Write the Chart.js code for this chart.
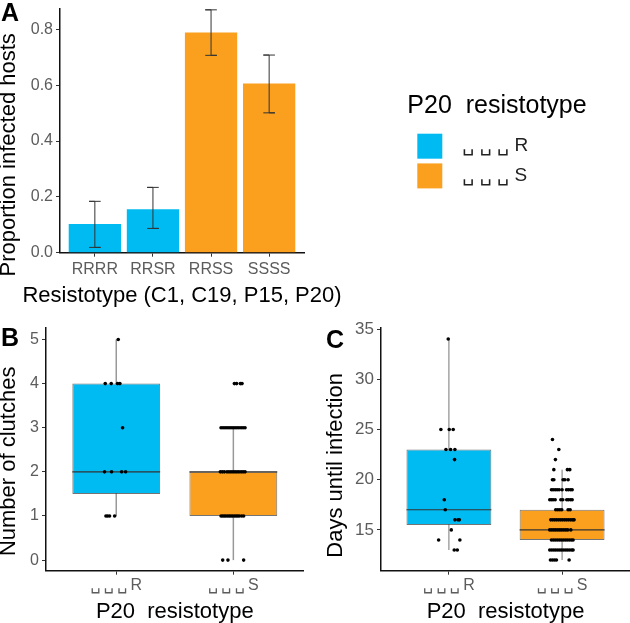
<!DOCTYPE html>
<html><head><meta charset="utf-8">
<style>
html,body{margin:0;padding:0;background:#fff;width:630px;height:623px;overflow:hidden}
canvas{position:absolute;display:block}
.tag{position:absolute;font:bold 25px "Liberation Sans",Arial,sans-serif;color:#000;line-height:25px}
</style></head><body>
<canvas id="a" width="630" height="315" style="left:0;top:0"></canvas>
<canvas id="b" width="320" height="303" style="left:0;top:320px"></canvas>
<canvas id="c" width="310" height="303" style="left:320px;top:320px"></canvas>
<div class="tag" style="left:1px;top:0">A</div>
<div class="tag" style="left:1px;top:325px">B</div>
<div class="tag" style="left:326px;top:327px">C</div>
<script src="https://cdn.jsdelivr.net/npm/chart.js@4"></script>
<script>
const BLUE = '#00BAF2', ORANGE = '#FAA01E';
const FONT = '"Liberation Sans","DejaVu Sans",Arial,sans-serif';

// Panel A
const resistotypes = ['RRRR', 'RRSR', 'RRSS', 'SSSS'];
const proportion = [0.103, 0.156, 0.789, 0.606];
const errLow = [0.019, 0.087, 0.707, 0.501];
const errHigh = [0.184, 0.234, 0.870, 0.708];
const barColors = [BLUE, BLUE, ORANGE, ORANGE];
const ticksA = [0, 0.2, 0.4, 0.6, 0.8];

// Panels B, C
const groupLabels = ['\u2423\u2009\u2423\u2009\u2423\u2009R', '\u2423\u2009\u2423\u2009\u2423\u2009S'];
const groupColors = [BLUE, ORANGE];
const legendLabels = ['\u00a0\u00a0\u2423 \u2423 \u2423 R', '\u00a0\u00a0\u2423 \u2423 \u2423 S'];

// box stats: whisker low, q1, median, q3, whisker high
const clutchStats = [[1, 1.5, 2, 4, 5], [0, 1, 2, 2, 3]];
const daysStats = [[13, 15.5, 17, 23, 34], [12, 14, 15, 17, 21]];
const ticksB = [0, 1, 2, 3, 4, 5];
const ticksC = [15, 20, 25, 30, 35];

// rows: value, then the jittered x position of each dot at that value
const clutchDots = [
  [5, 1.017],
  [4, 0.906, 0.957, 1.011, 1.031],
  [3, 1.054],
  [2, 0.900, 0.960, 1.046, 1.080],
  [1, 0.912, 0.926, 0.943, 0.986],
  [4, 2.009, 2.028, 2.060, 2.074],
  [3, 1.895, 1.912, 1.929, 1.946, 1.963, 1.980, 1.997, 2.014, 2.031, 2.048, 2.066, 2.083, 2.100],
  [2, 1.889, 1.906, 1.923, 1.946, 1.963, 1.980, 1.997, 2.014, 2.031, 2.048, 2.066, 2.083, 2.100],
  [1, 1.895, 1.909, 1.923, 1.937, 1.952, 1.966, 1.980, 1.994, 2.009, 2.023, 2.037, 2.051, 2.071, 2.088],
  [0, 1.909, 1.954, 2.088]
];
const daysDots = [
  [34, 0.994],
  [25, 0.929, 1.003, 1.038],
  [23, 0.974, 1.015, 1.053],
  [22, 1.050],
  [18, 0.959],
  [17, 0.968],
  [16, 1.053, 1.080, 1.092],
  [15, 1.021],
  [14, 0.909, 1.097],
  [13, 1.047, 1.074],
  [24, 1.915],
  [23, 1.971],
  [22, 1.941],
  [21, 1.927, 2.047, 2.068],
  [20, 1.915, 1.927, 2.009, 2.024, 2.053],
  [19, 1.906, 1.921, 1.939, 1.956, 1.974, 2.000, 2.039, 2.056, 2.074, 2.089],
  [18, 1.891, 1.906, 1.921, 1.939, 1.989, 2.006, 2.041, 2.056, 2.074, 2.089],
  [17, 1.944, 1.962, 1.980, 1.997, 2.053, 2.071],
  [16, 1.900, 1.918, 1.936, 1.953, 1.971, 1.989, 2.006, 2.024, 2.041, 2.059, 2.077, 2.094, 2.106],
  [15, 1.891, 1.909, 1.927, 1.944, 1.962, 1.980, 1.997, 2.015, 2.033, 2.050, 2.077],
  [14, 1.906, 1.924, 1.941, 1.959, 1.977, 1.994, 2.012, 2.030, 2.047, 2.065, 2.083, 2.097],
  [13, 1.891, 1.909, 1.927, 1.944, 1.962, 1.980, 1.997, 2.015, 2.033, 2.050, 2.068, 2.086, 2.097],
  [12, 1.897, 1.915, 1.933, 1.950, 2.062]
];

const line = (points, color, width, extra) => Object.assign({
  type: 'line', data: points, borderColor: color, borderWidth: width,
  pointRadius: 0, tension: 0, fill: false, clip: false, parsing: { xAxisKey: 'x', yAxisKey: 'y' }
}, extra || {});

function axis(cfg) {
  return {
    type: 'linear', min: cfg.min, max: cfg.max, offset: false,
    border: { display: true, color: '#111', width: 1.5 },
    grid: { display: true, offset: false, drawOnChartArea: false, drawTicks: true, tickLength: 4, color: '#333', tickWidth: 1 },
    title: { display: true, text: cfg.title, color: '#000', font: { family: FONT, size: 22 }, padding: 0 },
    ticks: {
      color: '#5c5c5c', font: { family: FONT, size: cfg.fontSize || 16 }, padding: cfg.pad === undefined ? 3 : cfg.pad,
      autoSkip: false, maxRotation: 0, minRotation: 0, callback: cfg.format
    },
    afterBuildTicks(s) { s.ticks = cfg.ticks.map(v => ({ value: v })); },
    afterFit(s) {
      if (cfg.width) s.width = cfg.width;
      if (cfg.height) s.height = cfg.height;
      s.paddingTop = s.paddingBottom = s.paddingLeft = s.paddingRight = 0;
      if (s.shiftedTitle) return;
      s.shiftedTitle = true;
      const draw = s.drawTitle;
      const [dx, dy] = cfg.shift || [0, 0];
      // draw the real axis title, offset from the axis centre and not squeezed to the axis length
      s.drawTitle = function () {
        const ctx = this.ctx;
        const saved = [this.left, this.right, this.top, this.bottom];
        if (this.isHorizontal()) { this.left -= 60; this.right += 60; } else { this.top -= 60; this.bottom += 60; }
        ctx.save(); ctx.translate(dx, dy); draw.call(this); ctx.restore();
        [this.left, this.right, this.top, this.bottom] = saved;
      };
    }
  };
}

function boxChart(id, stats, dots, o) {
  const positions = stats.map((_, i) => i + 1);
  const datasets = [];
  datasets.push({
    type: 'scatter', data: dots.flatMap(r => r.slice(1).map(x => ({ x, y: r[0] }))),
    backgroundColor: '#000', borderWidth: 0, pointRadius: 1.8, clip: false, order: 1
  });
  stats.forEach((s, i) => {
    datasets.push(line([{ x: positions[i] - 0.375, y: s[2] }, { x: positions[i] + 0.375, y: s[2] }], '#333', 1.1, { order: 2 }));
    datasets.push(line([{ x: positions[i], y: s[0] }, { x: positions[i], y: s[4] }], o.whisker, o.whiskerWidth, { order: 4 }));
  });
  datasets.push({
    type: 'bar', data: stats.map((s, i) => ({ x: positions[i], y: [s[1], s[3]] })),
    backgroundColor: groupColors, borderColor: 'rgba(70,70,70,0.75)', borderWidth: 1, borderSkipped: false,
    barPercentage: 0.75, categoryPercentage: 1, order: 3
  });
  new Chart(document.getElementById(id), {
    type: 'bar',
    data: { datasets },
    options: {
      responsive: false, animation: false, devicePixelRatio: 1,
      layout: { padding: o.padding, autoPadding: false },
      plugins: { legend: { display: false }, tooltip: { enabled: false } },
      scales: {
        x: axis({ min: 0.4, max: 2.6, ticks: positions, title: 'P20  resistotype', height: 52.3, pad: 1,
          format: v => groupLabels[v - 1], shift: o.xShift }),
        y: axis({ min: o.min, max: o.max, ticks: o.ticks, title: o.title, width: o.width, shift: o.yShift, fontSize: o.fontSize })
      }
    }
  });
}

// Panel A
const positionsA = resistotypes.map((_, i) => i + 1);
const capHalf = 0.1;
const placeLegend = {
  id: 'placeLegend',
  afterLayout(chart) {
    const l = chart.legend;
    l.left = 412.6; l.width = 168.8; l.right = 620; l.top = 94; l.bottom = 94 + l.height;
    l.draw = function () { this._draw(); };
  }
};
new Chart(document.getElementById('a'), {
  type: 'bar',
  data: {
    datasets: [
      ...positionsA.map((p, i) => line([
        { x: p - capHalf, y: errLow[i] }, { x: p + capHalf, y: errLow[i] }, { x: p, y: errLow[i] },
        { x: p, y: errHigh[i] }, { x: p - capHalf, y: errHigh[i] }, { x: p + capHalf, y: errHigh[i] }
      ], '#333', 1, { order: 1 })),
      {
        type: 'bar', data: positionsA.map((p, i) => ({ x: p, y: proportion[i] })),
        backgroundColor: barColors, borderWidth: 0, barPercentage: 0.9, categoryPercentage: 1, order: 2
      }
    ]
  },
  options: {
    responsive: false, animation: false, devicePixelRatio: 1,
    layout: { padding: { left: 0, top: 9, right: 326, bottom: 0 }, autoPadding: false },
    plugins: {
      tooltip: { enabled: false },
      legend: {
        display: true, position: 'chartArea', align: 'start',
        title: { display: true, position: 'center', text: 'P20  resistotype', color: '#000', font: { family: FONT, size: 25 }, padding: { top: 0, bottom: 5 } },
        labels: {
          boxWidth: 25, boxHeight: 25, padding: 4.7, color: '#222', font: { family: FONT, size: 19 },
          generateLabels: () => legendLabels.map((t, i) => ({ text: t, fillStyle: groupColors[i], strokeStyle: groupColors[i], lineWidth: 0, fontColor: '#222' }))
        }
      }
    },
    scales: {
      x: axis({ min: 0.4, max: 4.6, ticks: positionsA, title: 'Resistotype (C1, C19, P15, P20)', height: 62.3, pad: 3,
        format: v => resistotypes[v - 1], shift: [0, -6] }),
      y: axis({ min: 0, max: 0.873, ticks: ticksA, title: 'Proportion infected hosts', width: 60, shift: [-4, 24],
        format: v => v.toFixed(1) })
    }
  },
  plugins: [placeLegend]
});

boxChart('b', clutchStats, clutchDots, {
  min: -0.24, max: 5.26, ticks: ticksB, title: 'Number of clutches', width: 46, whisker: '#999', whiskerWidth: 1.5,
  padding: { left: 0, top: 8, right: 16.4, bottom: 0 }, yShift: [-4, 12], xShift: [0, 2]
});
boxChart('c', daysStats, daysDots, {
  min: 10.94, max: 35.1, ticks: ticksC, title: 'Days until infection', width: 61, whisker: '#777', whiskerWidth: 1,
  padding: { left: 0, top: 8, right: 0, bottom: 0 }, yShift: [3, 16], xShift: [0, 2], fontSize: 17
});
</script>
</body></html>
